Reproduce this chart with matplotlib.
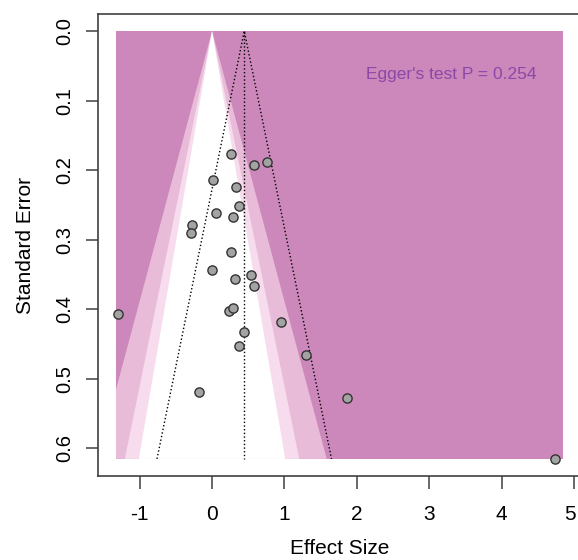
import numpy as np
import matplotlib.pyplot as plt
import matplotlib.transforms as mtransforms
from matplotlib.patches import Rectangle, Polygon

plt.rcParams["font.family"] = ["Liberation Sans", "DejaVu Sans"]

# study effect sizes and standard errors
effect_size = [0.267, 0.575, 0.763, 0.015, 0.327, 0.368, 0.061, 0.295,
               -0.280, -0.293, 0.267, 0.006, 0.318, 0.538, 0.584,
               -1.293, 0.240, 0.295, 0.951, 0.446, 0.368, 1.300,
               -0.174, 1.865, 4.742]
std_error = [0.176, 0.192, 0.188, 0.214, 0.224, 0.251, 0.261, 0.267,
             0.279, 0.290, 0.317, 0.344, 0.357, 0.350, 0.367,
             0.406, 0.402, 0.398, 0.418, 0.433, 0.452, 0.466,
             0.519, 0.527, 0.615]

pooled_es = 0.445
egger_p = 0.254
levels = [0.99, 0.95, 0.90]
z_vals = {0.99: 2.576, 0.95: 1.960, 0.90: 1.645}
shade_cols = {0.99: "#e8bbd8", 0.95: "#f6dcec", 0.90: "#ffffff"}
outer_col = "#cc88ba"

x_ticks = [-1, 0, 1, 2, 3, 4, 5]
y_ticks = [0.0, 0.1, 0.2, 0.3, 0.4, 0.5, 0.6]

se_max = max(std_error)
shade_lo, shade_hi = -1.325, 4.853

fig = plt.figure(figsize=(5.78, 5.60), dpi=100)
ax = fig.add_axes([0.170, 0.15, 0.8356, 0.825])

# shaded region and significance contours (centered at 0)
rect = Rectangle((shade_lo, 0), shade_hi - shade_lo, se_max,
                 facecolor=outer_col, edgecolor="none", zorder=1)
ax.add_patch(rect)
for lev in levels:
    z = z_vals[lev]
    tri = Polygon([(0, 0), (-z * se_max, se_max), (z * se_max, se_max)],
                  closed=True, facecolor=shade_cols[lev], edgecolor="none", zorder=2)
    ax.add_patch(tri)
    tri.set_clip_path(rect)

# funnel around the pooled estimate
ax.plot([pooled_es, pooled_es], [0, se_max], color="black", ls=":", lw=1, zorder=3)
ax.plot([pooled_es - 1.96 * se_max, pooled_es, pooled_es + 1.96 * se_max],
        [se_max, 0, se_max], color="black", ls=":", lw=1, zorder=3)

ax.scatter(effect_size, std_error, s=44, facecolor="#a3a3a3",
           edgecolor="#333333", linewidth=1.0, zorder=4)

ax.text(3.31, 0.062, f"Egger's test P = {egger_p}", color="#8b48a8",
        fontsize=12.5, ha="center", va="center", zorder=5)

rng_x = shade_hi - shade_lo
ax.set_xlim(shade_lo - 0.04 * rng_x, shade_hi + 0.04 * rng_x)
ax.set_ylim(se_max * 1.04, -0.04 * se_max)

ax.set_xticks(x_ticks)
ax.set_xticklabels([str(t) for t in x_ticks])
ax.set_yticks(y_ticks)
ax.set_yticklabels([f"{t:.1f}" for t in y_ticks])

ax.tick_params(axis="x", length=9, width=1.1, color="#404040", pad=12, labelsize=15)
ax.tick_params(axis="y", length=9, width=1.1, color="#404040", pad=8,
               labelsize=14.5, labelrotation=90)
for lab in ax.get_yticklabels():
    lab.set_va("center")

# last x label sits at the figure edge, nudge it in a little
last = ax.get_xticklabels()[-1]
last.set_transform(last.get_transform() +
                   mtransforms.ScaledTranslation(-4 / 100, 0, fig.dpi_scale_trans))

for sp in ax.spines.values():
    sp.set_color("#404040")
    sp.set_linewidth(1.2)

ax.set_xlabel("Effect Size", fontsize=15, labelpad=11)
ax.set_ylabel("Standard Error", fontsize=15, labelpad=15)

fig.savefig("out.png", dpi=100)
